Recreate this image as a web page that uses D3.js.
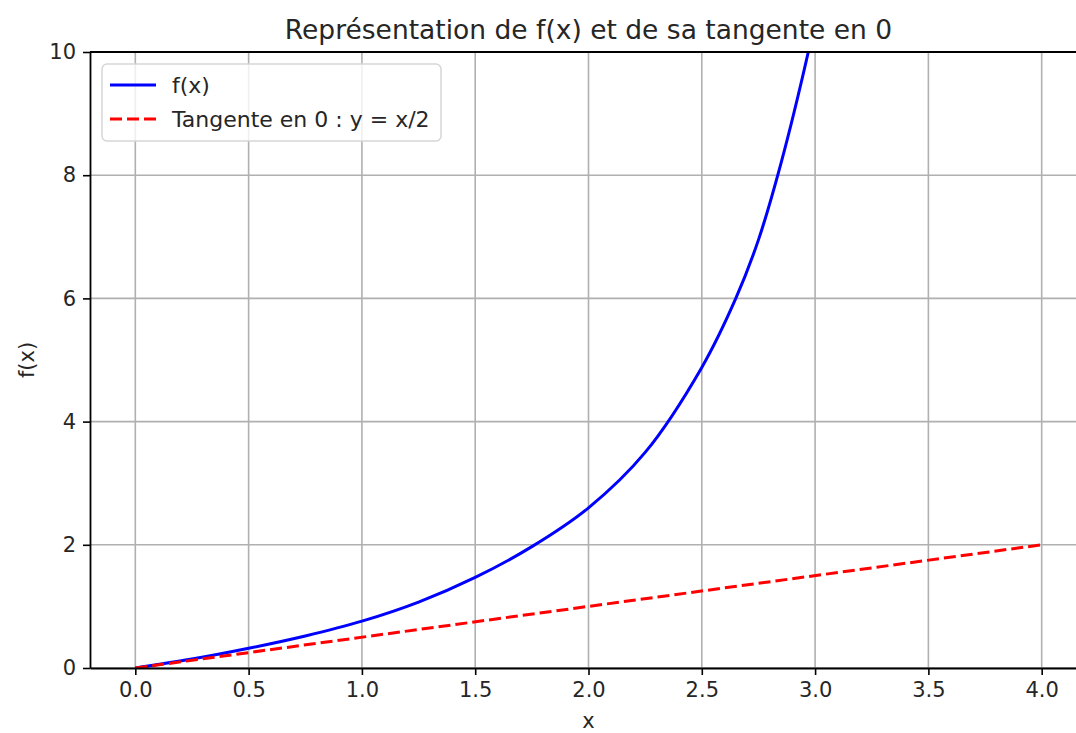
<!DOCTYPE html>
<html>
<head>
<meta charset="utf-8">
<script src="https://cdn.jsdelivr.net/npm/d3@7"></script>
<style>
  body { margin: 0; background: #ffffff; }
  text { font-family: "DejaVu Sans", sans-serif; fill: #262626; }
  .tick text { font-size: 21px; }
</style>
</head>
<body>
<div id="chart"></div>
<script>
// Curve f(x)
var curveX = [0, 0.25, 0.5, 0.75, 1.0, 1.25, 1.5, 1.75, 2.0, 2.25, 2.5, 2.65, 2.75, 2.85, 2.97, 3.05];
var curveY = [0, 0.145, 0.32, 0.52, 0.76, 1.07, 1.47, 1.97, 2.6, 3.5, 4.88, 6.0, 6.95, 8.2, 10.0, 11.4];

// Tangent at 0 : y = x/2
var tangentX = [0, 4];
var tangentY = [0, 2];

// Tick labels
var xTicks = [0, 0.5, 1.0, 1.5, 2.0, 2.5, 3.0, 3.5, 4.0];
var yTicks = [0, 2, 4, 6, 8, 10];

// Legend labels
var legendLabels = ["f(x)", "Tangente en 0 : y = x/2"];

// Define SVG area dimensions
var svgWidth = 1076;
var svgHeight = 733;

// Chart margins (the right side runs past the picture edge)
var margin = { top: 52, right: -11, bottom: 65, left: 90 };

var chartWidth = svgWidth - margin.left - margin.right;
var chartHeight = svgHeight - margin.top - margin.bottom;

var svg = d3
  .select("#chart")
  .append("svg")
  .attr("width", svgWidth)
  .attr("height", svgHeight)
  .style("display", "block");

var chartGroup = svg
  .append("g")
  .attr("transform", `translate(${margin.left}, ${margin.top})`);

// Scales (matplotlib style 5% margin on x)
var xScale = d3.scaleLinear().domain([-0.2, 4.2]).range([0, chartWidth]);
var yScale = d3.scaleLinear().domain([0, 10]).range([chartHeight, 0]);

// Grid lines
chartGroup
  .append("g")
  .selectAll("line")
  .data(xTicks)
  .enter()
  .append("line")
  .attr("x1", (d) => xScale(d))
  .attr("x2", (d) => xScale(d))
  .attr("y1", 0)
  .attr("y2", chartHeight)
  .attr("stroke", "#b0b0b0")
  .attr("stroke-width", 1.6);

chartGroup
  .append("g")
  .selectAll("line")
  .data(yTicks)
  .enter()
  .append("line")
  .attr("x1", 0)
  .attr("x2", chartWidth)
  .attr("y1", (d) => yScale(d))
  .attr("y2", (d) => yScale(d))
  .attr("stroke", "#b0b0b0")
  .attr("stroke-width", 1.6);

// Clip the lines to the plot area
svg
  .append("defs")
  .append("clipPath")
  .attr("id", "plotClip")
  .append("rect")
  .attr("width", chartWidth)
  .attr("height", chartHeight);

var lineGroup = chartGroup.append("g").attr("clip-path", "url(#plotClip)");

var line = d3
  .line()
  .x((d) => xScale(d[0]))
  .y((d) => yScale(d[1]))
  .curve(d3.curveCatmullRom.alpha(0.5));

// Blue curve
lineGroup
  .append("path")
  .datum(d3.zip(curveX, curveY))
  .attr("d", line)
  .attr("fill", "none")
  .attr("stroke", "#0000ff")
  .attr("stroke-width", 3);

// Red dashed tangent
lineGroup
  .append("path")
  .datum(d3.zip(tangentX, tangentY))
  .attr("d", line.curve(d3.curveLinear))
  .attr("fill", "none")
  .attr("stroke", "#ff0000")
  .attr("stroke-width", 3)
  .attr("stroke-dasharray", "12,5");

// Axes
var bottomAxis = d3
  .axisBottom(xScale)
  .tickValues(xTicks)
  .tickFormat(d3.format(".1f"))
  .tickSizeInner(7)
  .tickSizeOuter(0)
  .tickPadding(7);

var leftAxis = d3
  .axisLeft(yScale)
  .tickValues(yTicks)
  .tickFormat(d3.format("d"))
  .tickSizeInner(7)
  .tickSizeOuter(0)
  .tickPadding(7);

var xAxisG = chartGroup
  .append("g")
  .attr("transform", `translate(0, ${chartHeight})`)
  .call(bottomAxis);

var yAxisG = chartGroup.append("g").call(leftAxis);

[xAxisG, yAxisG].forEach((g) => {
  g.select(".domain").attr("stroke", "#000").attr("stroke-width", 1.8);
  g.selectAll(".tick line").attr("stroke", "#000").attr("stroke-width", 1.6);
  g.selectAll(".tick text").attr("fill", "#262626");
});

// Top spine
chartGroup
  .append("line")
  .attr("x1", 0)
  .attr("x2", chartWidth)
  .attr("y1", 0)
  .attr("y2", 0)
  .attr("stroke", "#000")
  .attr("stroke-width", 1.8);

// Title
svg
  .append("text")
  .attr("x", margin.left + chartWidth / 2)
  .attr("y", 39)
  .attr("text-anchor", "middle")
  .style("font-size", "26.5px")
  .text("Représentation de f(x) et de sa tangente en 0");

// Axis labels
svg
  .append("text")
  .attr("x", margin.left + xScale(2))
  .attr("y", 728)
  .attr("text-anchor", "middle")
  .style("font-size", "21px")
  .text("x");

svg
  .append("text")
  .attr("transform", `translate(34, ${margin.top + chartHeight / 2}) rotate(-90)`)
  .attr("text-anchor", "middle")
  .style("font-size", "21px")
  .text("f(x)");

// Legend
var legend = chartGroup.append("g").attr("transform", "translate(12, 12)");

legend
  .append("rect")
  .attr("width", 339)
  .attr("height", 77)
  .attr("rx", 5)
  .attr("fill", "#ffffff")
  .attr("fill-opacity", 0.8)
  .attr("stroke", "#d6d6d6")
  .attr("stroke-width", 1.5);

var legendColors = ["#0000ff", "#ff0000"];
var legendDash = [null, "12,5"];

legendLabels.forEach((label, i) => {
  var rowY = 21 + i * 34;
  legend
    .append("line")
    .attr("x1", 8)
    .attr("x2", 54)
    .attr("y1", rowY)
    .attr("y2", rowY)
    .attr("stroke", legendColors[i])
    .attr("stroke-width", 3)
    .attr("stroke-dasharray", legendDash[i]);
  legend
    .append("text")
    .attr("x", 70)
    .attr("y", rowY)
    .attr("dy", "0.35em")
    .style("font-size", "22px")
    .text(label);
});
</script>
</body>
</html>
